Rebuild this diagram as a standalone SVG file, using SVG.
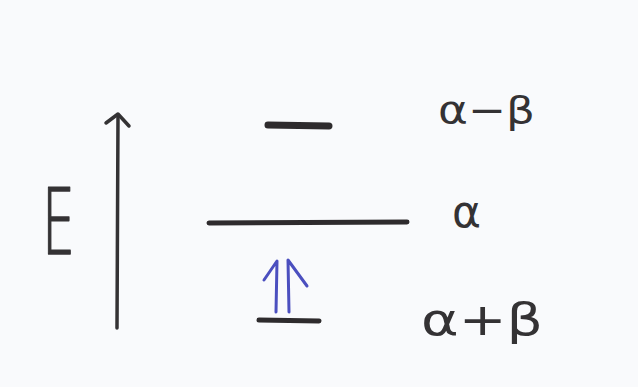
<svg xmlns="http://www.w3.org/2000/svg" width="638" height="387" viewBox="0 0 638 387">
<style>
.ink{stroke:#343234;fill:none;stroke-linecap:round;stroke-linejoin:round}
.lvl{stroke:#2e2b2d;stroke-linecap:round;fill:none}
.blue{stroke:#4b4fbf;fill:none;stroke-width:3;stroke-linecap:round;stroke-linejoin:round}
.lab{font-family:"DejaVu Sans",sans-serif;fill:#343234}
</style>
<rect width="638" height="387" fill="#f9fafc"/>
<g id="axis">
<path class="ink" stroke-width="3.5" d="M117 328 L118 116"/>
<path class="ink" stroke-width="3.5" d="M106 123 L118 114 L129 126"/>
</g>
<g id="label-E">
<text class="lab" font-family="DejaVu Sans ExtraLight, DejaVu Sans, sans-serif" font-weight="200" font-size="90" stroke="#343234" stroke-width="1.6" stroke-linejoin="round" transform="translate(42,254) scale(0.58,1)">E</text>
</g>
<g id="level-top">
<line class="lvl" stroke-width="7" x1="268" y1="125" x2="329" y2="126"/>
</g>
<g id="level-mid">
<line class="lvl" stroke-width="5" x1="209" y1="223" x2="407" y2="222"/>
</g>
<g id="level-bottom">
<line class="lvl" stroke-width="5" x1="259" y1="320" x2="319" y2="321"/>
</g>
<g id="electrons">
<path class="blue" d="M276 312 L277 261 L264 280"/>
<path class="blue" d="M289 312 L288 260 L307 286"/>
</g>
<g id="labels">
<text class="lab" font-size="38" x="438" y="123" textLength="97" lengthAdjust="spacingAndGlyphs">α−β</text>
<text class="lab" font-size="44" x="452" y="227">α</text>
<text class="lab" font-size="44" x="421" y="335" textLength="122" lengthAdjust="spacingAndGlyphs">α+β</text>
</g>
</svg>
